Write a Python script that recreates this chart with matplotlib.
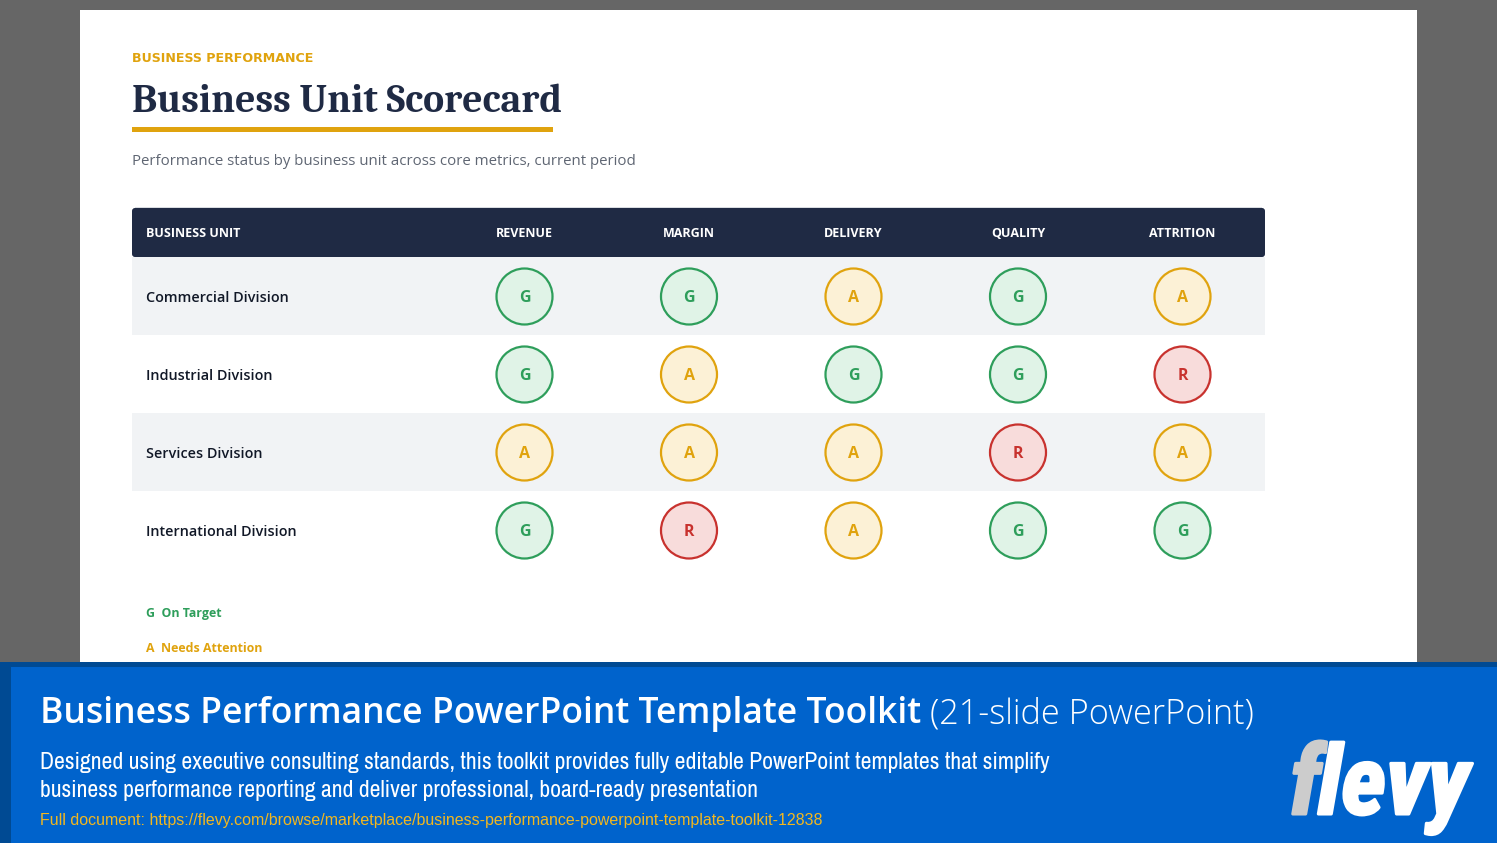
import matplotlib
matplotlib.use("Agg")
import matplotlib.pyplot as plt
import matplotlib.patheffects as pe
from matplotlib.patches import Rectangle, Circle, FancyBboxPatch

units = ["Commercial Division", "Industrial Division", "Services Division", "International Division"]
metrics = ["REVENUE", "MARGIN", "DELIVERY", "QUALITY", "ATTRITION"]
status = [
    ["G", "G", "A", "G", "A"],
    ["G", "A", "G", "G", "R"],
    ["A", "A", "A", "R", "A"],
    ["G", "R", "A", "G", "G"],
]
legend_items = [("G", "On Target"), ("A", "Needs Attention")]
eyebrow = "BUSINESS PERFORMANCE"
title = "Business Unit Scorecard"
subtitle = "Performance status by business unit across core metrics, current period"
banner_title = "Business Performance PowerPoint Template Toolkit"
banner_suffix = "(21-slide PowerPoint)"
banner_lines = ["Designed using executive consulting standards, this toolkit provides fully editable PowerPoint templates that simplify",
                "business performance reporting and deliver professional, board-ready presentation"]
banner_link = "Full document: https://flevy.com/browse/marketplace/business-performance-powerpoint-template-toolkit-12838"

palette = {"G": ("#2E9E5B", "#E0F3E7"), "A": ("#E0A30E", "#FCF1D6"), "R": ("#C8322E", "#F8DCDB")}
NAVY = "#1F2A44"
SANS = ["Open Sans", "Noto Sans", "DejaVu Sans"]
SERIF = ["Caladea", "Liberation Serif", "DejaVu Serif"]
NARROW = ["Archivo Narrow", "Roboto Condensed", "Liberation Sans"]
LOGO = ["Roboto Condensed", "Liberation Sans"]

fig = plt.figure(figsize=(14.97, 8.43), dpi=100, facecolor="#666666")
ax = fig.add_axes([0, 0, 1, 1])
ax.set_xlim(0, 1497); ax.set_ylim(843, 0); ax.axis("off")

ax.add_patch(Rectangle((80, 10), 1337, 660, fc="white", ec="none", zorder=1))

ax.text(132, 62, eyebrow, color="#E0A30E", fontsize=9.05, fontweight="bold", family="DejaVu Sans", va="baseline", zorder=3)
ax.text(132, 112.5, title, color=NAVY, fontsize=28.5, fontweight="bold", family=SERIF, va="baseline", zorder=3)
ax.add_patch(Rectangle((132, 127), 420.5, 5, fc="#E0A30E", ec="none", zorder=3))
ax.text(132, 164.6, subtitle, color="#5F6673", fontsize=10.8, family=SANS, va="baseline", zorder=3)

# table
TL, TR = 132, 1265
HT, HB = 208, 257
ROW = 78
cols = [524.5, 689, 853.5, 1018, 1182.5]
ax.add_patch(Rectangle((TL + 3, HT - 1), TR - TL - 6, 1, fc="#D9DCE1", ec="none", zorder=1.8))
ax.add_patch(FancyBboxPatch((TL + 3, HT + 3), TR - TL - 6, HB - HT - 6,
                            boxstyle="round,pad=3,rounding_size=3", fc=NAVY, ec="none", zorder=2))
ax.text(146, 237, "BUSINESS UNIT", color="white", fontsize=9, fontweight="bold", family=SANS, va="baseline", zorder=3)
for x, m in zip(cols, metrics):
    ax.text(x, 237, m, color="white", fontsize=9, fontweight="bold", family=SANS, va="baseline", ha="center", zorder=3)

for i, (u, row) in enumerate(zip(units, status)):
    y0 = HB + i * ROW
    yc = y0 + 39.5
    if i % 2 == 0:
        ax.add_patch(Rectangle((TL, y0), TR - TL, ROW, fc="#F1F3F5", ec="none", zorder=1.5))
    ax.text(146, yc + 5.5, u, color="#111827", fontsize=10.4, fontweight=600, family=SANS, va="baseline", zorder=3)
    for x, s in zip(cols, row):
        ec, fc = palette[s]
        ax.add_patch(Circle((x, yc), 28, fc=fc, ec=ec, lw=1.6, zorder=3))
        ax.text(x, yc + 5.5, s, color=ec, fontsize=11.5, fontweight="bold", family=SANS,
                ha="center", va="baseline", zorder=4)

for y, (k, lab) in zip([617, 652], legend_items):
    ax.text(146, y, f"{k}  {lab}", color=palette[k][0], fontsize=8.95, fontweight="bold",
            family=SANS, va="baseline", zorder=3)

# banner
ax.add_patch(Rectangle((0, 662), 1497, 181, fc="#004A93", ec="none", zorder=5))
ax.add_patch(Rectangle((11, 667), 1486, 176, fc="#0063CC", ec="none", zorder=6))
ax.text(40, 723.3, banner_title, color="white", fontsize=25.6, fontweight=600, family=SANS, va="baseline", zorder=7)
ax.text(930, 723.3, banner_suffix, color="white", fontsize=24.7, fontweight=300, family=SANS, va="baseline", zorder=7)
for y, l in zip([769, 797], banner_lines):
    ax.text(40, y, l, color="white", fontsize=17.1, family=NARROW, va="baseline", zorder=7)
ax.text(40, 825, banner_link, color="#F2B71F", fontsize=11.5, family="Liberation Sans", va="baseline", zorder=7)
ax.text(1290, 814, "f", color="#CCCCCC", fontsize=69, fontweight="bold", style="italic", family=LOGO, va="baseline", zorder=7,
        path_effects=[pe.withStroke(linewidth=2.2, foreground="#CCCCCC")])
ax.text(1318, 814, "levy", color="white", fontsize=69, fontweight="bold", style="italic", family=LOGO, va="baseline", zorder=7,
        path_effects=[pe.withStroke(linewidth=2.2, foreground="white")])

fig.savefig("out.png", dpi=100, facecolor=fig.get_facecolor())
